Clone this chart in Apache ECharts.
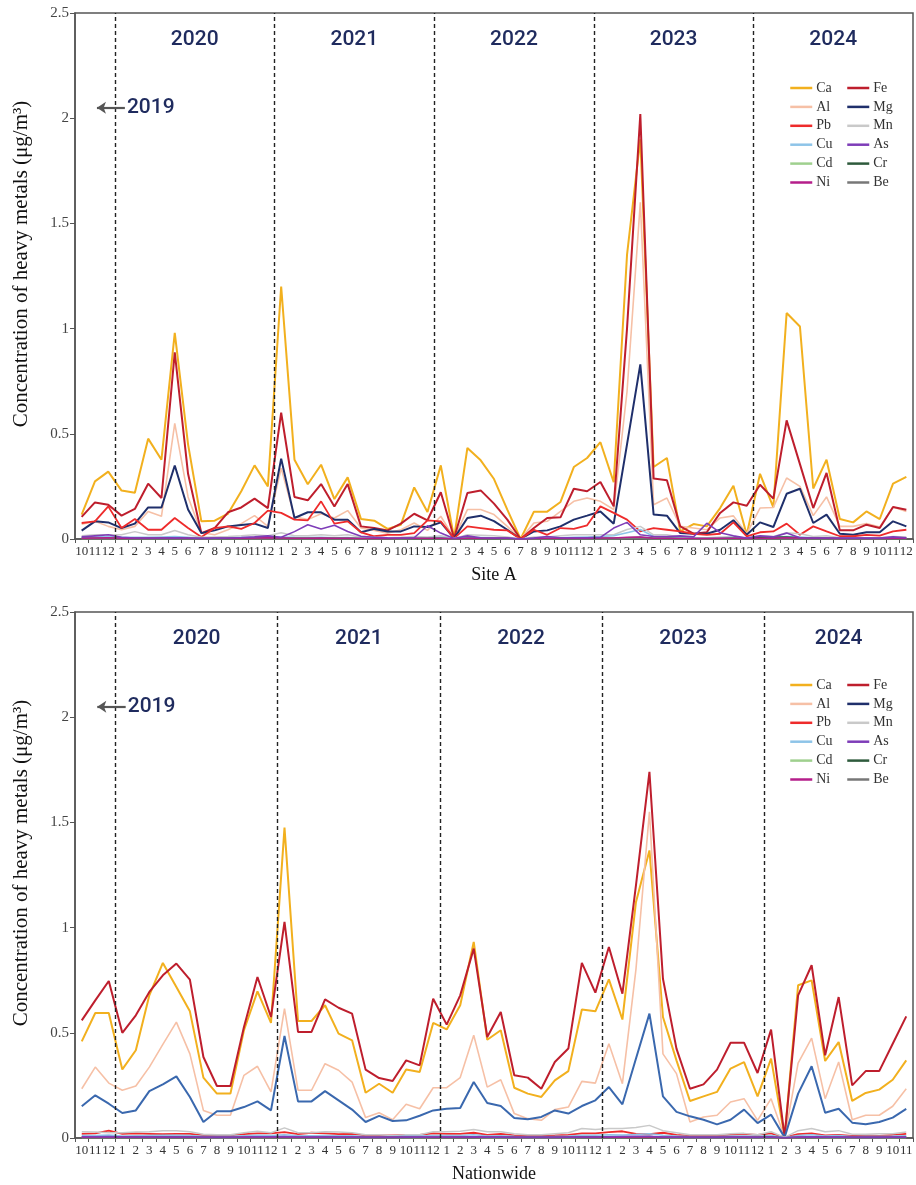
<!DOCTYPE html>
<html>
<head>
<meta charset="utf-8">
<script src="https://cdn.jsdelivr.net/npm/echarts@6.0.0/dist/echarts.min.js"></script>
<style>html,body{margin:0;padding:0;background:#fff}#chart{width:916px;height:1185px}</style>
</head>
<body>
<div id="chart"></div>
<script>
// ---------- tick labels ----------
const monthsA = ['10','11','12',
 '1','2','3','4','5','6','7','8','9','10','11','12',
 '1','2','3','4','5','6','7','8','9','10','11','12',
 '1','2','3','4','5','6','7','8','9','10','11','12',
 '1','2','3','4','5','6','7','8','9','10','11','12',
 '1','2','3','4','5','6','7','8','9','10','11','12'];
const monthsN = ['10','11','12',
 '1','2','3','4','5','6','7','8','9','10','11','12',
 '1','2','3','4','5','6','7','8','9','10','11','12',
 '1','2','3','4','5','6','7','8','9','10','11','12',
 '1','2','3','4','5','6','7','8','9','10','11','12',
 '1','2','3','4','5','6','7','8','9','10','11'];
const yearNames = ['2020','2021','2022','2023','2024'];
const yearStarts = [3, 15, 27, 39, 51];   // category index where each year begins
const metalsLeft = ['Ca','Al','Pb','Cu','Cd','Ni'];
const metalsRight = ['Fe','Mg','Mn','As','Cr','Be'];

// ---------- Site A (Oct 2019 - Dec 2024) ----------
const CaA = [0.116,0.274,0.32,
 0.23,0.22,0.477,0.377,0.98,0.45,0.084,0.087,0.12,0.227,0.35,0.25,
 1.2,0.377,0.26,0.353,0.19,0.293,0.095,0.087,0.048,0.068,0.245,0.128,
 0.35,0.005,0.433,0.374,0.285,0.14,0.0,0.13,0.13,0.176,0.342,0.385,
 0.46,0.27,1.35,1.9,0.342,0.385,0.036,0.071,0.06,0.147,0.253,0.02,
 0.31,0.15,1.074,1.01,0.24,0.377,0.095,0.079,0.131,0.095,0.263,0.295];
const FeA = [0.105,0.174,0.163,
 0.111,0.143,0.263,0.195,0.887,0.31,0.028,0.052,0.127,0.15,0.192,0.147,
 0.6,0.2,0.184,0.261,0.155,0.261,0.06,0.052,0.041,0.073,0.12,0.089,
 0.222,0.005,0.219,0.231,0.168,0.092,0.0,0.052,0.1,0.103,0.239,0.227,
 0.271,0.155,1.0,2.02,0.287,0.279,0.06,0.025,0.032,0.124,0.174,0.158,
 0.258,0.192,0.564,0.356,0.147,0.314,0.041,0.041,0.068,0.052,0.152,0.139];
const AlA = [0.07,0.084,0.06,
 0.044,0.06,0.131,0.108,0.55,0.2,0.03,0.02,0.044,0.073,0.111,0.06,
 0.337,0.105,0.092,0.12,0.1,0.135,0.052,0.041,0.028,0.044,0.076,0.041,
 0.108,0.004,0.14,0.14,0.116,0.06,0.0,0.076,0.084,0.131,0.179,0.195,
 0.179,0.14,0.7,1.6,0.163,0.195,0.06,0.052,0.044,0.1,0.11,0.025,
 0.147,0.15,0.29,0.25,0.111,0.2,0.06,0.06,0.073,0.057,0.152,0.131];
const MgA = [0.04,0.084,0.079,
 0.052,0.073,0.15,0.15,0.349,0.14,0.028,0.041,0.06,0.067,0.073,0.052,
 0.382,0.1,0.127,0.127,0.092,0.092,0.032,0.048,0.036,0.036,0.06,0.057,
 0.079,0.003,0.1,0.111,0.085,0.044,0.0,0.036,0.041,0.06,0.092,0.111,
 0.131,0.073,0.45,0.83,0.116,0.111,0.028,0.025,0.025,0.044,0.089,0.02,
 0.079,0.057,0.215,0.239,0.076,0.116,0.025,0.02,0.032,0.032,0.084,0.06];
const PbA = [0.076,0.084,0.155,
 0.052,0.095,0.044,0.044,0.1,0.052,0.01,0.052,0.06,0.048,0.076,0.135,
 0.124,0.092,0.089,0.179,0.073,0.084,0.032,0.013,0.02,0.02,0.028,0.089,
 0.084,0.003,0.06,0.052,0.044,0.041,0.0,0.044,0.02,0.052,0.048,0.065,
 0.155,0.124,0.092,0.036,0.052,0.044,0.036,0.025,0.02,0.025,0.079,0.013,
 0.032,0.036,0.073,0.02,0.06,0.036,0.013,0.013,0.02,0.016,0.036,0.044];
const AsA = [0.01,0.015,0.02,
 0.008,0.005,0.005,0.005,0.006,0.005,0.003,0.004,0.005,0.007,0.01,0.015,
 0.008,0.035,0.068,0.048,0.065,0.036,0.013,0.008,0.006,0.005,0.006,0.063,
 0.028,0.002,0.015,0.006,0.005,0.005,0.0,0.004,0.012,0.006,0.006,0.006,
 0.008,0.052,0.079,0.02,0.012,0.012,0.015,0.01,0.075,0.03,0.015,0.005,
 0.015,0.01,0.028,0.006,0.005,0.005,0.005,0.004,0.004,0.004,0.01,0.006];
const MnA = [0.015,0.02,0.02,0.02,0.035,0.02,0.02,0.04,0.02,0.008,0.01,0.012,0.015,0.02,0.015,0.03,0.015,0.015,0.02,0.015,0.02,0.008,0.008,0.006,0.008,0.012,0.01,0.015,0.002,0.02,0.018,0.015,0.01,0.0,0.01,0.01,0.015,0.02,0.02,0.02,0.02,0.045,0.06,0.02,0.02,0.008,0.006,0.006,0.01,0.012,0.004,0.015,0.012,0.03,0.025,0.012,0.015,0.006,0.005,0.006,0.006,0.012,0.01];
const CuA = [0.008,0.01,0.012,0.008,0.008,0.008,0.01,0.012,0.008,0.004,0.005,0.006,0.007,0.008,0.01,0.01,0.008,0.007,0.008,0.006,0.007,0.004,0.004,0.003,0.004,0.006,0.006,0.008,0.001,0.008,0.007,0.006,0.005,0.0,0.004,0.005,0.006,0.008,0.01,0.012,0.015,0.03,0.045,0.012,0.01,0.005,0.004,0.004,0.005,0.008,0.003,0.007,0.006,0.012,0.01,0.006,0.006,0.003,0.003,0.004,0.003,0.006,0.005];
const CdA = [0.002,0.002,0.003,0.002,0.002,0.002,0.002,0.003,0.002,0.001,0.001,0.002,0.002,0.002,0.003,0.002,0.002,0.002,0.002,0.002,0.002,0.001,0.001,0.001,0.001,0.002,0.002,0.002,0.0,0.002,0.002,0.002,0.001,0.0,0.001,0.001,0.002,0.002,0.002,0.002,0.002,0.003,0.004,0.002,0.002,0.001,0.001,0.001,0.001,0.002,0.001,0.002,0.002,0.003,0.002,0.002,0.002,0.001,0.001,0.001,0.001,0.002,0.002];
const NiA = [0.004,0.005,0.006,0.004,0.004,0.004,0.005,0.006,0.004,0.002,0.003,0.003,0.004,0.005,0.006,0.005,0.004,0.004,0.005,0.004,0.004,0.002,0.002,0.002,0.003,0.003,0.004,0.004,0.001,0.004,0.004,0.003,0.003,0.0,0.002,0.003,0.003,0.004,0.004,0.005,0.005,0.008,0.01,0.004,0.004,0.002,0.002,0.002,0.003,0.004,0.002,0.004,0.003,0.006,0.005,0.003,0.004,0.002,0.002,0.002,0.002,0.003,0.003];
const CrA = [0.003,0.003,0.004,0.003,0.003,0.003,0.003,0.005,0.003,0.002,0.002,0.002,0.003,0.003,0.003,0.004,0.003,0.003,0.003,0.003,0.003,0.002,0.002,0.001,0.002,0.002,0.002,0.003,0.0,0.003,0.003,0.002,0.002,0.0,0.002,0.002,0.002,0.003,0.003,0.003,0.003,0.006,0.008,0.003,0.003,0.002,0.002,0.002,0.002,0.003,0.002,0.008,0.01,0.01,0.006,0.003,0.003,0.002,0.002,0.002,0.002,0.003,0.002];
const BeA = [0.001,0.001,0.001,0.001,0.001,0.001,0.001,0.002,0.001,0.0,0.0,0.001,0.001,0.001,0.001,0.001,0.001,0.001,0.001,0.001,0.001,0.0,0.0,0.0,0.0,0.001,0.001,0.001,0.0,0.001,0.001,0.001,0.0,0.0,0.0,0.001,0.001,0.001,0.001,0.001,0.001,0.002,0.003,0.001,0.001,0.0,0.0,0.0,0.0,0.001,0.0,0.001,0.001,0.002,0.001,0.001,0.001,0.0,0.0,0.0,0.0,0.001,0.001];

// ---------- Nationwide (Oct 2019 - Nov 2024) ----------
const CaN = [0.459,0.594,0.594,
 0.326,0.417,0.678,0.832,0.718,0.602,0.287,0.211,0.211,0.512,0.697,0.547,
 1.475,0.556,0.556,0.631,0.496,0.464,0.215,0.258,0.215,0.326,0.314,0.547,
 0.516,0.631,0.932,0.467,0.512,0.239,0.211,0.195,0.274,0.318,0.611,0.602,
 0.754,0.563,1.12,1.367,0.575,0.369,0.176,0.198,0.219,0.33,0.361,0.198,
 0.377,0.005,0.726,0.749,0.366,0.456,0.176,0.214,0.23,0.277,0.369];
const FeN = [0.559,0.654,0.746,
 0.5,0.583,0.694,0.773,0.829,0.753,0.385,0.247,0.247,0.528,0.765,0.575,
 1.027,0.504,0.504,0.659,0.619,0.591,0.325,0.285,0.271,0.369,0.345,0.662,
 0.539,0.678,0.9,0.48,0.599,0.298,0.287,0.234,0.361,0.425,0.832,0.691,
 0.908,0.686,1.2,1.74,0.757,0.425,0.234,0.255,0.325,0.453,0.453,0.309,
 0.515,0.005,0.678,0.821,0.393,0.67,0.25,0.318,0.318,0.448,0.578];
const AlN = [0.234,0.337,0.261,
 0.227,0.247,0.337,0.445,0.551,0.4,0.131,0.108,0.108,0.298,0.341,0.219,
 0.615,0.227,0.227,0.353,0.322,0.266,0.097,0.12,0.087,0.16,0.139,0.239,
 0.239,0.287,0.488,0.242,0.277,0.116,0.092,0.084,0.135,0.147,0.269,0.261,
 0.448,0.258,0.8,1.55,0.4,0.306,0.076,0.1,0.108,0.171,0.187,0.084,
 0.187,0.004,0.356,0.475,0.187,0.361,0.087,0.108,0.108,0.151,0.234];
const MgN = [0.151,0.203,0.163,
 0.119,0.131,0.223,0.255,0.293,0.195,0.076,0.127,0.127,0.147,0.174,0.131,
 0.485,0.174,0.174,0.223,0.179,0.135,0.076,0.105,0.081,0.084,0.106,0.131,
 0.139,0.143,0.266,0.166,0.152,0.095,0.089,0.1,0.131,0.116,0.152,0.179,
 0.242,0.16,0.377,0.591,0.198,0.124,0.103,0.087,0.065,0.087,0.135,0.071,
 0.111,0.003,0.211,0.341,0.12,0.139,0.073,0.065,0.076,0.097,0.138];
const PbN = [0.02,0.022,0.035,0.02,0.022,0.02,0.018,0.02,0.02,0.012,0.012,0.012,0.018,0.022,0.022,0.028,0.018,0.025,0.022,0.018,0.02,0.012,0.012,0.012,0.015,0.015,0.022,0.02,0.02,0.025,0.015,0.02,0.012,0.01,0.01,0.012,0.015,0.022,0.022,0.028,0.032,0.02,0.018,0.025,0.015,0.01,0.01,0.01,0.015,0.018,0.015,0.022,0.003,0.018,0.022,0.012,0.015,0.01,0.012,0.01,0.015,0.02];
const MnN = [0.03,0.028,0.025,0.025,0.028,0.03,0.035,0.035,0.03,0.018,0.015,0.015,0.025,0.032,0.025,0.048,0.025,0.025,0.03,0.028,0.025,0.015,0.015,0.012,0.015,0.015,0.03,0.03,0.032,0.04,0.03,0.03,0.02,0.015,0.015,0.02,0.025,0.045,0.04,0.045,0.045,0.05,0.06,0.035,0.025,0.015,0.015,0.015,0.02,0.022,0.015,0.03,0.003,0.035,0.045,0.03,0.035,0.018,0.018,0.02,0.02,0.028];
const CuN = [0.012,0.012,0.014,0.01,0.011,0.012,0.013,0.013,0.012,0.008,0.008,0.008,0.011,0.013,0.012,0.016,0.011,0.011,0.012,0.011,0.011,0.007,0.007,0.007,0.009,0.009,0.012,0.012,0.012,0.015,0.01,0.011,0.008,0.007,0.007,0.008,0.01,0.013,0.013,0.015,0.014,0.017,0.02,0.013,0.01,0.007,0.007,0.007,0.009,0.01,0.008,0.012,0.002,0.012,0.015,0.01,0.012,0.007,0.008,0.008,0.009,0.011];
const AsN = [0.006,0.006,0.007,0.005,0.005,0.005,0.005,0.005,0.005,0.003,0.003,0.003,0.005,0.006,0.006,0.007,0.005,0.005,0.005,0.004,0.004,0.003,0.003,0.003,0.004,0.004,0.005,0.005,0.005,0.006,0.004,0.004,0.003,0.003,0.003,0.003,0.004,0.005,0.005,0.006,0.007,0.008,0.008,0.005,0.004,0.003,0.003,0.003,0.004,0.004,0.003,0.005,0.001,0.005,0.006,0.004,0.004,0.003,0.003,0.003,0.004,0.004];
const CdN = [0.002,0.002,0.002,0.002,0.002,0.002,0.002,0.002,0.002,0.001,0.001,0.001,0.002,0.002,0.002,0.003,0.002,0.002,0.002,0.002,0.002,0.001,0.001,0.001,0.001,0.001,0.002,0.002,0.002,0.002,0.001,0.002,0.001,0.001,0.001,0.001,0.001,0.002,0.002,0.002,0.002,0.003,0.003,0.002,0.001,0.001,0.001,0.001,0.001,0.001,0.001,0.002,0.0,0.002,0.002,0.001,0.002,0.001,0.001,0.001,0.001,0.002];
const NiN = [0.004,0.005,0.005,0.004,0.004,0.004,0.004,0.004,0.004,0.003,0.003,0.003,0.004,0.005,0.005,0.005,0.004,0.004,0.004,0.004,0.004,0.003,0.003,0.003,0.003,0.003,0.004,0.004,0.004,0.005,0.003,0.004,0.003,0.003,0.003,0.003,0.003,0.004,0.004,0.004,0.004,0.005,0.006,0.004,0.003,0.003,0.003,0.003,0.003,0.003,0.003,0.004,0.001,0.004,0.004,0.003,0.003,0.003,0.003,0.003,0.003,0.004];
const CrN = [0.005,0.005,0.006,0.005,0.005,0.005,0.005,0.005,0.005,0.003,0.003,0.003,0.004,0.005,0.005,0.006,0.004,0.004,0.005,0.004,0.004,0.003,0.003,0.003,0.003,0.003,0.004,0.004,0.005,0.005,0.004,0.004,0.003,0.003,0.003,0.003,0.004,0.005,0.005,0.005,0.005,0.006,0.007,0.004,0.004,0.003,0.003,0.003,0.003,0.004,0.003,0.005,0.001,0.004,0.005,0.004,0.004,0.003,0.003,0.003,0.003,0.004];
const BeN = [0.001,0.001,0.001,0.001,0.001,0.001,0.001,0.001,0.001,0.0,0.0,0.0,0.001,0.001,0.001,0.001,0.001,0.001,0.001,0.001,0.001,0.0,0.0,0.0,0.0,0.0,0.001,0.001,0.001,0.001,0.001,0.001,0.0,0.0,0.0,0.0,0.001,0.001,0.001,0.001,0.001,0.001,0.002,0.001,0.001,0.0,0.0,0.0,0.0,0.001,0.0,0.001,0.0,0.001,0.001,0.001,0.001,0.0,0.0,0.0,0.0,0.001];

const siteA = {Ca:CaA, Al:AlA, Fe:FeA, Mg:MgA, Pb:PbA, Mn:MnA, Cu:CuA, Cd:CdA, Cr:CrA, Be:BeA, Ni:NiA, As:AsA};
const nation = {Ca:CaN, Al:AlN, Fe:FeN, Mg:MgN, Pb:PbN, Mn:MnN, Cu:CuN, Cd:CdN, Cr:CrN, Be:BeN, Ni:NiN, As:AsN};
for (const k in siteA) if (siteA[k].length !== monthsA.length) throw new Error('SiteA '+k+' len '+siteA[k].length);
for (const k in nation) if (nation[k].length !== monthsN.length) throw new Error('Nation '+k+' len '+nation[k].length);

// ---------- styling ----------
const SERIF = '"Liberation Serif","Times New Roman",serif';
const SANS = 'Roboto, "Noto Sans", sans-serif';
const colors = {Ca:'#F2B01E', Fe:'#BE1E2D', Al:'#F6C0A6', Mg:'#1F2F6B', Pb:'#EE2B2B', Mn:'#C9C9C9',
  Cu:'#8EC4E8', As:'#7E3DB8', Cd:'#9FD08E', Cr:'#2E5A3C', Ni:'#B51E8A', Be:'#777777'};
const colorsN = Object.assign({}, colors, {Mg:'#3A68AE'});
const widths = {Ca:2, Fe:2, Al:1.6, Mg:2, Pb:1.8, Mn:1.5, Cu:1.5, As:1.6, Cd:1.5, Cr:1.5, Ni:1.5, Be:1.5};
const drawOrder = ['Ca','Al','Fe','Mg','Pb','Mn','Cu','Cd','Cr','Be','Ni','As'];

const grids = [
  {left:75, right:3, top:13, height:526},
  {left:75, right:3, top:612, height:526}
];
grids.forEach(g => Object.assign(g, {show:true, borderColor:'#555', borderWidth:1.5, backgroundColor:'transparent'}));

function catAxis(gi, data, name){
  return {gridIndex:gi, type:'category', data:data, boundaryGap:true,
    axisLine:{lineStyle:{color:'#555', width:1.5}},
    axisTick:{show:true, length:4, interval:0, lineStyle:{color:'#555'}},
    axisLabel:{interval:0, fontFamily:SERIF, fontSize:13, color:'#333', margin:6},
    splitLine:{show:false},
    name:name, nameLocation:'middle', nameGap:27,
    nameTextStyle:{fontFamily:SERIF, fontSize:18, color:'#111'}};
}
function valAxis(gi){
  return {gridIndex:gi, type:'value', min:0, max:2.5, interval:0.5,
    axisLine:{show:true, lineStyle:{color:'#555', width:1.5}},
    axisTick:{show:true, length:5, lineStyle:{color:'#555'}},
    axisLabel:{fontFamily:SERIF, fontSize:15, color:'#444', margin:6},
    splitLine:{show:false},
    name:'Concentration of heavy metals (μg/m³)', nameLocation:'middle', nameGap:43,
    nameTextStyle:{fontFamily:SERIF, fontSize:21, color:'#111', padding:[0,0,0,24]}};
}
function hiddenX(gi, n){ return {gridIndex:gi, type:'value', min:0, max:n, show:false}; }

const yearText = {fontFamily:SANS, fontWeight:500, fontSize:21, color:'#1F2B5E', textBorderWidth:0, opacity:1};

function panelSeries(data, cols, xi, yi, nCats){
  const out = drawOrder.map(k => ({
    name:k, type:'line', xAxisIndex:xi, yAxisIndex:yi, data:data[k],
    symbol:'none', showSymbol:false, smooth:false, animation:false,
    lineStyle:{color:cols[k], width:widths[k]}, itemStyle:{color:cols[k]},
    emphasis:{disabled:true}
  }));
  // year labels + dividers
  const bounds = yearStarts.concat([nCats]);
  const yearPts = yearNames.map((y,i)=>[(bounds[i]+bounds[i+1])/2, 2.375, y]);
  out.push({type:'scatter', xAxisIndex:xi+1, yAxisIndex:yi, data:yearPts, symbolSize:0, silent:true, animation:false,
    itemStyle:{opacity:1},
    label:Object.assign({show:true, position:'inside', formatter:p=>p.data[2]}, yearText),
    markLine:{silent:true, symbol:['none','none'], animation:false, label:{show:false},
      lineStyle:{type:[4,3], color:'#222', width:1.4, opacity:1},
      data: yearStarts.map(v=>({xAxis:v}))}
  });
  // 2019 arrow annotation
  out.push({type:'scatter', xAxisIndex:xi+1, yAxisIndex:yi, data:[[3.9, 2.05, '2019']], symbolSize:0, silent:true, animation:false,
    itemStyle:{opacity:1},
    label:Object.assign({show:true, position:'right', distance:0, formatter:p=>p.data[2]}, yearText),
    markLine:{silent:true, animation:false, symbol:['none','arrow'], symbolSize:9, label:{show:false},
      lineStyle:{type:'solid', color:'#555', width:2.2, opacity:1},
      data:[[{coord:[3.75, 2.05]}, {coord:[1.65, 2.05]}]]}
  });
  return out;
}

function legendCol(items, left, top){
  return {data:items, orient:'vertical', left:left, top:top, padding:0,
    itemWidth:22, itemHeight:14, itemGap:4.9, selectedMode:false,
    itemStyle:{color:'rgba(0,0,0,0)', borderWidth:0, opacity:0},
    lineStyle:{width:2.5},
    textStyle:{fontFamily:SERIF, fontSize:14, color:'#333', padding:[0,0,0,-1]}};
}

const option = {
  backgroundColor:'#fff',
  animation:false,
  grid: grids,
  xAxis:[catAxis(0, monthsA, 'Site A'), hiddenX(0, monthsA.length), catAxis(1, monthsN, 'Nationwide'), hiddenX(1, monthsN.length)],
  yAxis:[valAxis(0), valAxis(1)],
  legend:[legendCol(metalsLeft, 789, 81), legendCol(metalsRight, 846, 81), legendCol(metalsLeft, 789, 678), legendCol(metalsRight, 846, 678)],
  series: panelSeries(siteA, colors, 0, 0, monthsA.length).concat(panelSeries(nation, colorsN, 2, 1, monthsN.length))
};
const chart = echarts.init(document.getElementById('chart'), null, {renderer:'canvas'});
chart.setOption(option);
</script>
</body>
</html>
